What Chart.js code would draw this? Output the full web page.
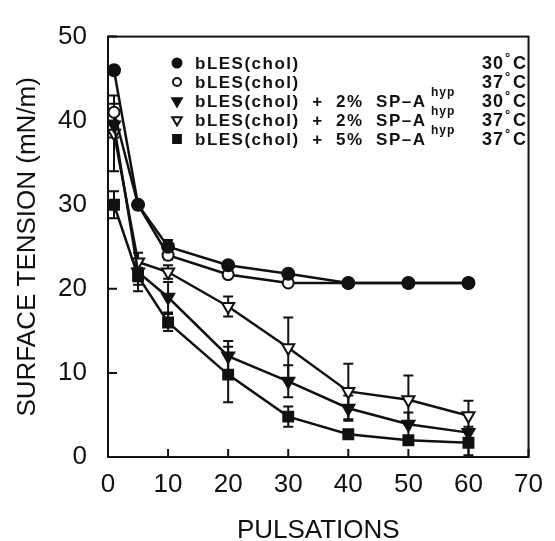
<!DOCTYPE html>
<html>
<head>
<meta charset="utf-8">
<script src="https://cdn.jsdelivr.net/npm/chart.js@4.4.0/dist/chart.umd.min.js"></script>
<style>
html,body{margin:0;padding:0;background:#fff;}
#wrap{width:555px;height:541px;position:relative;}
</style>
</head>
<body>
<div id="wrap"><canvas id="c"></canvas></div>
<script>
// ---- data ----
const pulsations = [1, 5, 10, 20, 30, 40, 50, 60];
const xTicks = [0, 10, 20, 30, 40, 50, 60, 70];
const yTicks = [0, 10, 20, 30, 40, 50];

const chol30 = [46, 30, 25, 22.8, 21.8, 20.7, 20.7, 20.7];
const chol30Err = [0, 0, 0.8, 0, 0, 0, 0, 0];
const chol37 = [41, 30, 24, 21.7, 20.7, 20.7, 20.7, 20.7];
const chol37Err = [1, 0, 0.5, 0, 0, 0, 0, 0];
const spa2_30 = [39.5, 22, 19, 12, 9, 5.8, 3.9, 2.9];
const spa2_30Err = [1.5, 2.3, 1.8, 1.8, 1.9, 1.5, 1.4, 0.7];
const spa2_37 = [38.5, 23.2, 22, 17.9, 13, 7.8, 6.8, 4.9];
const spa2_37Err = [4.5, 0, 0.8, 1.2, 3.6, 3.3, 2.9, 1.8];
const spa5_37 = [30, 21.5, 16, 9.8, 4.8, 2.7, 2.0, 1.7];
const spa5_37Err = [1.6, 1.0, 1.0, 3.3, 1.2, 0.5, 0.3, 1.5];

const legendNames = ['bLES(chol)', 'bLES(chol)', 'bLES(chol)  +  2%  SP–A', 'bLES(chol)  +  2%  SP–A', 'bLES(chol)  +  5%  SP–A'];
const legendTemps = ['30', '37', '30', '37', '37'];

const FONT = "'Liberation Sans', Arial, sans-serif";
const INK = '#111';

function pts(ys) { return pulsations.map((x, i) => ({x: x, y: ys[i]})); }

const styles = [
  {style: 'circle', fill: INK, r: 6, rot: 0},
  {style: 'circle', fill: '#fff', r: 5.5, rot: 0},
  {style: 'triangle', fill: INK, r: 7, rot: 180},
  {style: 'triangle', fill: '#fff', r: 7, rot: 180},
  {style: 'rect', fill: INK, r: 7, rot: 0},
];
const series = [chol30, chol37, spa2_30, spa2_37, spa5_37];
const errs = [chol30Err, chol37Err, spa2_30Err, spa2_37Err, spa5_37Err];

const datasets = series.map((s, i) => ({
  data: pts(s),
  errors: errs[i],
  showLine: true,
  borderColor: INK,
  borderWidth: 2.5,
  pointStyle: styles[i].style,
  pointRadius: styles[i].r,
  pointRotation: styles[i].rot,
  pointBackgroundColor: styles[i].fill,
  pointBorderColor: INK,
  pointBorderWidth: 2,
  pointHoverRadius: styles[i].r,
  tension: 0,
}));

const errorBars = {
  id: 'errorBars',
  beforeDatasetsDraw(chart) {
    const ctx = chart.ctx;
    const xs = chart.scales.x, ys = chart.scales.y;
    ctx.save();
    ctx.strokeStyle = INK;
    ctx.lineWidth = 2;
    chart.data.datasets.forEach(ds => {
      ds.data.forEach((p, i) => {
        const e = ds.errors[i];
        if (!e) return;
        const px = xs.getPixelForValue(p.x);
        const top = ys.getPixelForValue(p.y + e);
        const bot = ys.getPixelForValue(Math.max(0, p.y - e));
        ctx.beginPath();
        ctx.moveTo(px, top); ctx.lineTo(px, bot);
        ctx.moveTo(px - 5, top); ctx.lineTo(px + 5, top);
        ctx.moveTo(px - 5, bot); ctx.lineTo(px + 5, bot);
        ctx.stroke();
      });
    });
    ctx.restore();
  }
};

const frame = {
  id: 'frame',
  afterDraw(chart) {
    const ctx = chart.ctx, a = chart.chartArea;
    const xs = chart.scales.x, ys = chart.scales.y;
    ctx.save();
    ctx.strokeStyle = INK;
    ctx.lineWidth = 2;
    ctx.strokeRect(a.left, a.top, a.right - a.left, a.bottom - a.top);
    ctx.beginPath();
    xTicks.forEach(v => {
      const px = xs.getPixelForValue(v);
      ctx.moveTo(px, a.bottom); ctx.lineTo(px, a.bottom - 8);
    });
    yTicks.forEach(v => {
      const py = ys.getPixelForValue(v);
      ctx.moveTo(a.left, py); ctx.lineTo(a.left + 9, py);
    });
    ctx.stroke();

    // legend
    const rowY = [63, 82, 101, 120, 139];
    ctx.textBaseline = 'middle';
    rowY.forEach((y, i) => {
      const st = styles[i];
      ctx.fillStyle = st.fill;
      ctx.strokeStyle = INK;
      ctx.lineWidth = 2;
      Chart.helpers.drawPoint(ctx, {pointStyle: st.style, radius: st.r - 1.5, rotation: st.rot, borderWidth: 2}, 177, y);
      ctx.fillStyle = INK;
      ctx.font = 'bold 17px ' + FONT;
      ctx.letterSpacing = '1.5px';
      ctx.textAlign = 'left';
      ctx.fillText(legendNames[i], 195, y + 1);
      if (i >= 2) {
        ctx.font = 'bold 12px ' + FONT;
        ctx.letterSpacing = '1px';
        ctx.fillText('hyp', 431, y - 8);
      }
      ctx.font = 'bold 18px ' + FONT;
      ctx.letterSpacing = '1px';
      ctx.textAlign = 'right';
      ctx.fillText(legendTemps[i], 504, y + 1);
      ctx.textAlign = 'left';
      ctx.fillText('C', 513, y + 1);
      ctx.font = 'bold 13px ' + FONT;
      ctx.letterSpacing = '0px';
      ctx.fillText('°', 505, y - 5);
    });
    ctx.restore();
  }
};

new Chart(document.getElementById('c'), {
  type: 'scatter',
  data: {datasets: datasets},
  options: {
    responsive: true,
    maintainAspectRatio: false,
    animation: false,
    events: [],
    layout: {padding: {top: 26, right: 20, left: 0, bottom: 0}},
    plugins: {legend: {display: false}, tooltip: {enabled: false}},
    scales: {
      x: {
        type: 'linear', min: 0, max: 70,
        afterFit(s) { s.height = 84; },
        afterBuildTicks(s) { s.ticks = xTicks.map(v => ({value: v})); },
        grid: {display: false, drawTicks: false},
        border: {display: false},
        ticks: {color: INK, font: {family: FONT, size: 26}, padding: 12, maxRotation: 0},
        title: {display: true, text: 'PULSATIONS', color: INK, font: {family: FONT, size: 26, lineHeight: 0.75}, padding: {top: 0, bottom: 0}}
      },
      y: {
        type: 'linear', min: 0, max: 50,
        afterFit(s) { s.width = 108; },
        afterBuildTicks(s) { s.ticks = yTicks.map(v => ({value: v})); },
        grid: {display: false, drawTicks: false},
        border: {display: false},
        ticks: {color: INK, font: {family: FONT, size: 26}, padding: 21},
        title: {display: true, text: 'SURFACE TENSION (mN/m)', color: INK, font: {family: FONT, size: 26, lineHeight: 1}, padding: {top: 15, bottom: 0}}
      }
    }
  },
  plugins: [errorBars, frame]
});
</script>
</body>
</html>
